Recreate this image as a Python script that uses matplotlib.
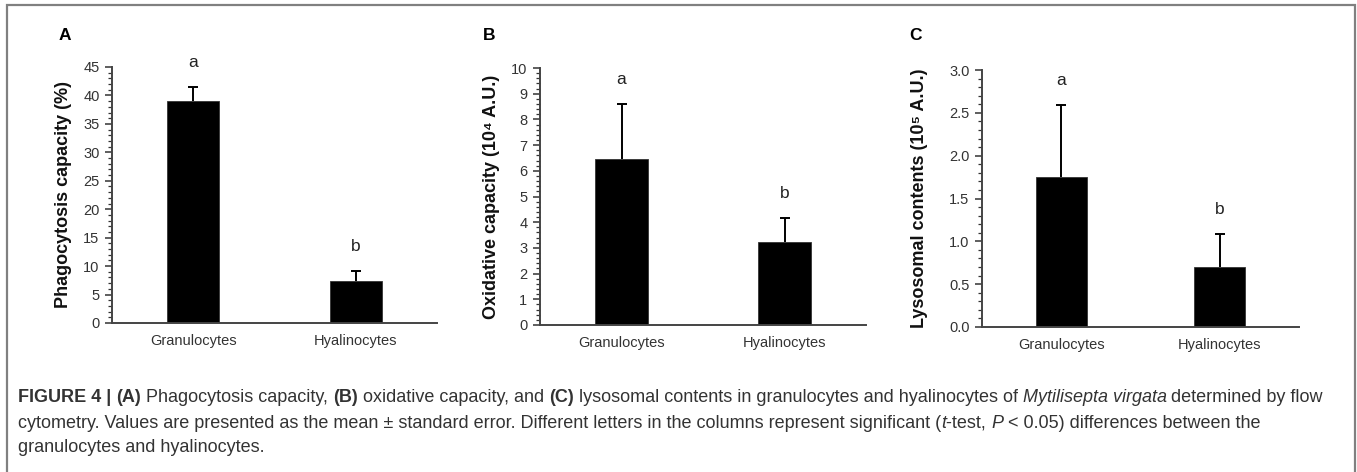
import matplotlib.pyplot as plt
from matplotlib.patches import Rectangle
from matplotlib.ticker import MultipleLocator, FormatStrFormatter

plt.rcParams['font.family'] = ['Liberation Sans', 'DejaVu Sans']

cells = ["Granulocytes", "Hyalinocytes"]
letters = ["a", "b"]

phago_mean = [39.1, 7.3]
phago_err = [2.4, 1.9]

oxid_mean = [6.45, 3.22]
oxid_err = [2.15, 0.95]

lyso_mean = [1.75, 0.70]
lyso_err = [0.84, 0.385]

W, H = 1357, 472
fig = plt.figure(figsize=(W / 100, H / 100), dpi=100)

# gray frame round the whole figure (open at the bottom edge)
fig.patches.append(Rectangle((7 / W, -0.05), (1355 - 7) / W, 1.05 - 5 / H, transform=fig.transFigure,
                             fill=False, edgecolor='#808080', linewidth=1.6))

panels = [
    # (left, right, top, bottom) in px, data, ylabel, ylim, major, minor, fmt, letter, letter x, ylabel x
    ((112, 437, 67, 323), phago_mean, phago_err, "Phagocytosis capacity (%)", 45, 5, 1, "%d", "A", 65, 63),
    ((540, 866, 68, 325), oxid_mean, oxid_err, "Oxidative capacity (10⁴ A.U.)", 10, 1, 0.2, "%d", "B", 489, 492),
    ((982, 1299, 70, 327), lyso_mean, lyso_err, "Lysosomal contents (10⁵ A.U.)", 3.0, 0.5, 0.1, "%.1f", "C", 916, 920),
]

for (l, r, t, b), mean, err, ylab, ymax, major, minor, fmt, tag, tag_x, lab_x in panels:
    ax = fig.add_axes([l / W, 1 - b / H, (r - l) / W, (b - t) / H])
    x = range(len(cells))
    ax.bar(x, mean, width=0.32, color='black', edgecolor='#333333', linewidth=0.6, zorder=2)
    eb = ax.errorbar(x, mean, yerr=[[0] * len(err), err], fmt='none', ecolor='black',
                     elinewidth=1.4, capsize=3.3, capthick=1.4, zorder=3)
    eb[1][0].set_visible(False)  # no cap at the bar top
    for xi, m, e, let in zip(x, mean, err, letters):
        ax.annotate(let, (xi, m + e), xytext=(0, 17.5), textcoords='offset points',
                    ha='center', va='center', fontsize=12.5, color='#222222',
                    annotation_clip=False)
    ax.set_xlim(-0.5, 1.5)
    ax.set_ylim(0, ymax)
    ax.set_xticks(list(x))
    ax.set_xticklabels(cells, fontsize=10.5, color='#333333')
    ax.tick_params(axis='x', length=0, pad=8)
    ax.yaxis.set_major_locator(MultipleLocator(major))
    ax.yaxis.set_minor_locator(MultipleLocator(minor))
    ax.yaxis.set_major_formatter(FormatStrFormatter(fmt))
    ax.tick_params(axis='y', which='major', length=5, width=1.1, labelsize=10.5,
                   colors='#333333', pad=4)
    ax.tick_params(axis='y', which='minor', length=3, width=0.9, colors='#333333')
    for s in ['top', 'right']:
        ax.spines[s].set_visible(False)
    for s in ['left', 'bottom']:
        ax.spines[s].set_color('#444444')
        ax.spines[s].set_linewidth(1.4)
    ax.patch.set_alpha(0)
    fig.text(lab_x / W, 1 - ((t + b) / 2) / H, ylab, rotation=90, ha='center', va='center',
             fontsize=13, fontweight='bold', color='#111111')
    fig.text(tag_x / W, 1 - 35 / H, tag, ha='center', va='center', fontsize=12.5,
             fontweight='bold', color='black')

# caption, built from pieces with mixed styles
cap_color = '#333333'
cap_family = ['Liberation Sans Narrow', 'Liberation Sans', 'DejaVu Sans']
lines = [
    [("FIGURE 4 | ", 'bold', 'normal'), ("(A)", 'bold', 'normal'), (" Phagocytosis capacity, ", 'normal', 'normal'),
     ("(B)", 'bold', 'normal'), (" oxidative capacity, and ", 'normal', 'normal'), ("(C)", 'bold', 'normal'),
     (" lysosomal contents in granulocytes and hyalinocytes of ", 'normal', 'normal'),
     ("Mytilisepta virgata", 'normal', 'italic'), (" determined by flow", 'normal', 'normal')],
    [("cytometry. Values are presented as the mean ± standard error. Different letters in the columns represent significant (",
      'normal', 'normal'), ("t", 'normal', 'italic'), ("-test, ", 'normal', 'normal'), ("P", 'normal', 'italic'),
     (" < 0.05) differences between the", 'normal', 'normal')],
    [("granulocytes and hyalinocytes.", 'normal', 'normal')],
]
line_y = [398, 423, 448]

fig.canvas.draw()
renderer = fig.canvas.get_renderer()
for pieces, yy in zip(lines, line_y):
    xx = 18
    for txt, wt, st in pieces:
        tt = fig.text(xx / W, 1 - yy / H, txt, ha='left', va='center', fontsize=13,
                      fontweight=wt, fontstyle=st, color=cap_color, family=cap_family)
        ext = tt.get_window_extent(renderer=renderer)
        xx += ext.width

fig.savefig("out.png", dpi=100)
